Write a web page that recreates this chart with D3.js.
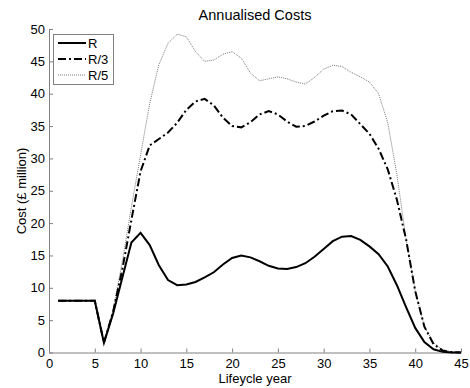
<!DOCTYPE html>
<meta charset="utf-8">
<style>
 body { margin: 0; background: #fff; }
 svg { font-family: "Liberation Sans", Arial, sans-serif; }
 .axis path, .axis line { stroke: #808080; }
 .axis text { fill: #000; font-size: 13px; }
</style>
<svg width="470" height="388"></svg>
<script src="https://cdnjs.cloudflare.com/ajax/libs/d3/7.8.5/d3.min.js"></script>
<script>
 // lifecycle years 1..45
 var years = d3.range(1, 46)

 var costR = [8, 8, 8, 8, 8, 1.5, 6, 11.5, 17, 18.5,
              16.6, 13.5, 11.2, 10.4, 10.5, 10.9, 11.6, 12.4, 13.6, 14.6,
              15.0, 14.7, 14.1, 13.4, 13.0, 12.9, 13.2, 13.8, 14.8, 16.0,
              17.2, 17.9, 18.0, 17.4, 16.4, 15.2, 13.3, 10.4, 7.0, 3.8,
              1.6, 0.5, 0.1, 0, 0]
 var costR3 = [8, 8, 8, 8, 8, 1.5, 6.3, 12.8, 20.5, 28,
               32, 33, 34, 35.5, 37.5, 38.8, 39.2, 38.2, 36.3, 35,
               34.8, 35.6, 36.8, 37.3, 36.8, 35.7, 34.9, 35, 35.7, 36.6,
               37.3, 37.4, 36.8, 35.3, 33.8, 31.5, 28.3, 23.6, 17.5, 9.5,
               4, 1.3, 0.3, 0.05, 0]
 var costR5 = [8, 8, 8, 8, 8, 1.5, 6.6, 14, 22.5, 30.5,
               38.5, 44.5, 47.8, 49.2, 48.8, 46.5, 45, 45.2, 46.1, 46.5,
               45.5, 43.2, 42, 42.3, 42.6, 42.3, 41.8, 41.5, 42.5, 43.8,
               44.4, 44.2, 43.3, 42.6, 41.8, 40, 35.5, 27.5, 17.5, 9.5,
               4, 1.5, 0.4, 0.1, 0]

 var seriesNames = ['R', 'R/3', 'R/5']
 var seriesValues = [costR, costR3, costR5]
 var seriesStyle = [
   {stroke: '#000', width: 2, dash: null},
   {stroke: '#000', width: 2, dash: '8,3,2,3'},
   {stroke: '#7a7a7a', width: 1, dash: '1,1'}
 ]

 var xTicks = d3.range(0, 46, 5)
 var yTicks = d3.range(0, 51, 5)

 var svg = d3.select('svg')

 var x = d3.scaleLinear().domain([0, 45]).range([49, 461])
 var y = d3.scaleLinear().domain([0, 50]).range([352.5, 29])

 svg.append('g')
    .attr('class', 'axis')
    .attr('transform', 'translate(0,' + y(0) + ')')
    .call(d3.axisBottom(x).tickValues(xTicks).tickSizeInner(-4).tickSizeOuter(0).tickPadding(6))

 svg.append('g')
    .attr('class', 'axis')
    .attr('transform', 'translate(' + x(0) + ',0)')
    .call(d3.axisLeft(y).tickValues(yTicks).tickSizeInner(-4).tickSizeOuter(0).tickPadding(4))

 var line = d3.line()
              .x(function(d) { return x(d[0]) })
              .y(function(d) { return y(d[1]) })

 seriesValues.slice().reverse().forEach(function(vals, k) {
   var i = seriesValues.length - 1 - k
   var st = seriesStyle[i]
   svg.append('path')
      .datum(years.map(function(yr, j) { return [yr, vals[j]] }))
      .attr('fill', 'none')
      .attr('stroke', st.stroke)
      .attr('stroke-width', st.width)
      .attr('stroke-dasharray', st.dash)
      .attr('d', line)
 })

 svg.append('text')
    .attr('x', 255).attr('y', 20)
    .attr('text-anchor', 'middle')
    .style('font-size', '14.5px')
    .text('Annualised Costs')

 svg.append('text')
    .attr('x', 255).attr('y', 383)
    .attr('text-anchor', 'middle')
    .style('font-size', '13px')
    .text('Lifeycle year')

 svg.append('text')
    .attr('transform', 'translate(26,191) rotate(-90)')
    .attr('text-anchor', 'middle')
    .style('font-size', '13px')
    .text('Cost (£ million)')

 // legend
 var legend = svg.append('g')
 legend.append('rect')
       .attr('x', 53.5).attr('y', 34.5)
       .attr('width', 60).attr('height', 50)
       .attr('fill', '#fff')
       .attr('stroke', '#808080')
 seriesNames.forEach(function(name, i) {
   var ly = 43 + i * 16
   var st = seriesStyle[i]
   legend.append('line')
         .attr('x1', 58).attr('x2', 86)
         .attr('y1', ly).attr('y2', ly)
         .attr('stroke', st.stroke)
         .attr('stroke-width', st.width)
         .attr('stroke-dasharray', st.dash)
   legend.append('text')
         .attr('x', 88).attr('y', ly + 5)
         .style('font-size', '13px')
         .text(name)
 })
</script>
